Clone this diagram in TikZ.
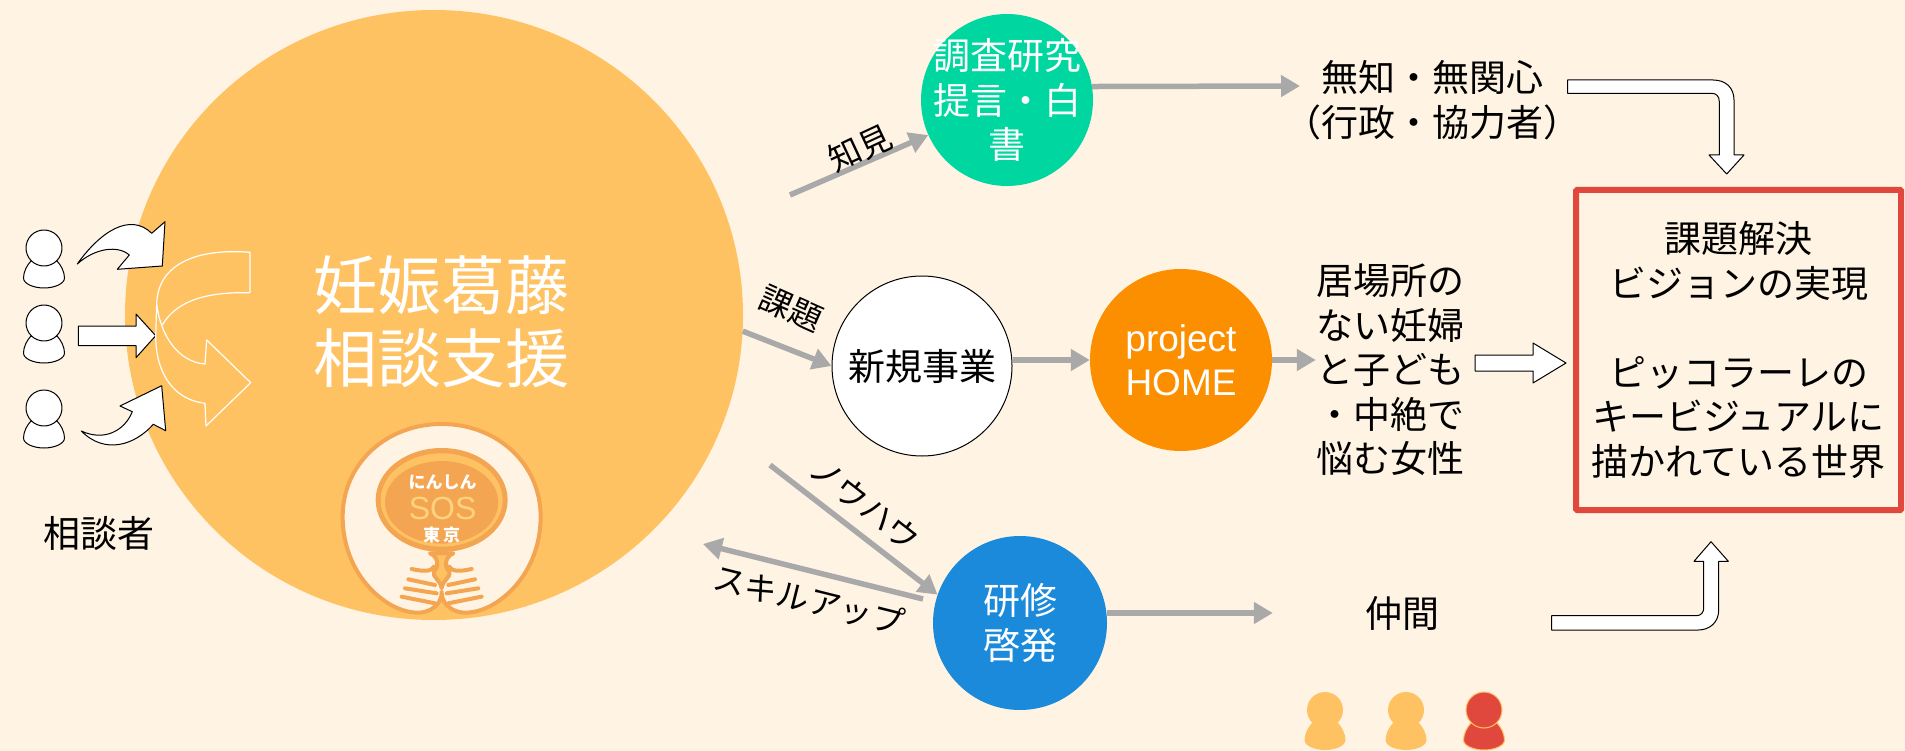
\documentclass[tikz,border=0pt]{standalone}
\usepackage{fontspec}
\setmainfont{Noto Sans CJK JP}
\newfontfamily\latinfont{Liberation Sans}
\usetikzlibrary{arrows.meta,calc,shapes.geometric}

\definecolor{paper}{HTML}{FFF4E3}
\definecolor{sunny}{HTML}{FFC262}
\definecolor{logoorange}{HTML}{F4A552}
\definecolor{logoyellow}{HTML}{FFD27F}
\definecolor{leafgreen}{HTML}{00D6A0}
\definecolor{homeorange}{HTML}{FB8F00}
\definecolor{skyblue}{HTML}{1C8ADB}
\definecolor{alertred}{HTML}{E0483D}
\definecolor{flowgray}{HTML}{A9A9A9}

\tikzset{
    bubble/.style={circle, inner sep=-30pt, minimum size=#1, align=center},
    body/.style={font=\fontsize{37}{44.5}\selectfont, inner sep=0pt, align=center},
    tag/.style={font=\fontsize{32.5}{40}\selectfont, inner sep=0pt},
    flow/.style={draw=flowgray, line width=5.5pt, -{Triangle[length=19pt,width=21pt]}},
    block/.style={draw=black, fill=white, line width=1pt, line join=round},
    ghost/.style={draw=white, line width=1.2pt, line join=round},
    rib/.style={draw=logoorange, line width=4pt, line cap=round},
    person/.pic={
        \path[pic actions] (-13,13) .. controls (-17,17) and (-20.5,24) .. (-20.5,30)
            .. controls (-20.5,36) and (-10,40) .. (0,40)
            .. controls (10,40) and (20.5,36) .. (20.5,30)
            .. controls (20.5,24) and (17,17) .. (13,13) -- cycle;
        \path[pic actions] (0,0) circle [radius=18];
    },
}

\begin{document}
\begin{tikzpicture}[x=1pt,y=-1pt]
    \fill[paper] (0,0) rectangle (1905,751);
    \useasboundingbox (0,0) rectangle (1905,751);

    % main circle
    \node[ellipse, fill=sunny, minimum width=618pt, minimum height=610pt, inner sep=0pt] at (434,315) (BIG) {};
    \node[body, font=\fontsize{64}{73}\selectfont, text=white] at (441,322) (TITLE) {妊娠葛藤\\相談支援};

    % people on the left
    \pic[block] at (44,248) {person};
    \pic[block] at (44,323) {person};
    \pic[block] at (44,408) {person};
    \draw[block] (77.3,264) .. controls (100,232) and (130,212) .. (151.7,233.3)
        -- (165,221.7) -- (162.3,266) -- (117.3,269.3) -- (129.3,255)
        .. controls (118,245) and (95,248) .. cycle;
    \draw[block] (78.3,326) -- (136,326) -- (136,314) -- (155.7,335.7)
        -- (136,357.7) -- (136,345.7) -- (78.3,345.7) -- cycle;
    \draw[block] (81.3,431) .. controls (105,442) and (125,430) .. (132.3,411.7)
        -- (120,406) -- (161.7,385.7) -- (165.7,430.7) -- (153.3,424.3)
        .. controls (135,445) and (105,455) .. cycle;
    \node[body] at (99,533) (ASKER) {相談者};

    % u-turn outline
    \draw[ghost] (250,292.7) .. controls (212,292) and (178,298) .. (162.3,325);
    \draw[ghost] (250,292.7) -- (250,252.3) .. controls (195,248) and (158,265) .. (156.7,303.3)
        .. controls (160,335) and (178,362) .. (205,364) -- (206.7,340)
        -- (250.7,382.7) -- (206,426) -- (205,403.3)
        .. controls (175,400) and (156,375) .. (155.7,336.7) -- (156.7,303.3);

    % logo
    \begin{scope}[shift={(320,420)},x=0.3333pt,y=-0.3333pt]
        \path[draw=logoorange, fill=paper, line width=4pt, line join=round] (365,12)
            .. controls (530,12) and (662,130) .. (662,290)
            .. controls (662,400) and (610,490) .. (540,540)
            .. controls (500,570) and (440,590) .. (400,570)
            .. controls (375,555) and (365,540) .. (365,515)
            .. controls (365,540) and (355,555) .. (330,570)
            .. controls (290,590) and (230,570) .. (190,540)
            .. controls (120,490) and (68,400) .. (68,290)
            .. controls (68,130) and (200,12) .. (365,12) -- cycle;
        \path[draw=logoorange, fill=sunny, line width=4pt, line join=round] (365,505)
            .. controls (362,480) and (335,470) .. (342,455)
            .. controls (358,440) and (355,410) .. (330,400)
            -- (400,400)
            .. controls (375,410) and (372,440) .. (388,455)
            .. controls (395,470) and (368,480) .. (365,505) -- cycle;
        \fill[logoorange] (365,240) ellipse [x radius=198, y radius=156];
        \fill[sunny] (365,240) ellipse [x radius=183, y radius=140];
        \fill[logoorange] (365,247) ellipse [x radius=170, y radius=124];
        \draw[rib] (388,440) .. controls (395,455) and (420,455) .. (455,447);
        \draw[rib] (342,440) .. controls (335,455) and (310,455) .. (275,447);
        \foreach \ya/\xa/\xb/\yb in {495/385/465/478, 520/380/475/505, 550/385/485/530} {
            \draw[rib] (\xa,\ya) -- (\xb,\yb);
            \draw[rib] ({730-\xa},\ya) -- ({730-\xb},\yb);
        }
        \node[inner sep=0pt, text=white, font=\fontsize{17}{20}\bfseries\selectfont] at (368,187) (LOGOA) {にんしん};
        \node[inner sep=0pt, text=logoyellow, font=\latinfont\fontsize{32}{36}\selectfont] at (368,265) (LOGOB) {SOS};
        \node[inner sep=0pt, text=white, font=\fontsize{17}{20}\bfseries\selectfont] at (365,345) (LOGOC) {東\,京};
    \end{scope}

    % bubbles
    \node[bubble=172pt, fill=leafgreen, text=white, font=\fontsize{37}{44.5}\selectfont] at (1007,100) (CHOSA) {調査研究\\提言・白\\書};
    \node[bubble=180pt, draw=black, line width=1pt, fill=white, font=\fontsize{37}{44.5}\selectfont] at (922,366) (SHINKI) {新規事業};
    \node[bubble=182pt, fill=homeorange, text=white, font=\latinfont\fontsize{37}{44}\selectfont] at (1181,360) (HOME) {project\\HOME};
    \node[bubble=174pt, fill=skyblue, text=white, font=\fontsize{37}{44.5}\selectfont] at (1020,623) (KENSHU) {研修\\啓発};

    % text on the right
    \node[body] at (1432,100) (MUCHI) {無知・無関心\\（行政・協力者）};
    \node[body] at (1390,370) (IBASHO) {居場所の\\ない妊婦\\と子ども\\・中絶で\\悩む女性};
    \node[body, minimum width=258pt] at (1402,613) (NAKAMA) {仲間};
    \node[draw=alertred, line width=6pt, rounded corners=1pt, minimum width=325pt, minimum height=320pt, inner sep=0pt, outer sep=0pt,
        align=center, font=\fontsize{37}{44.5}\selectfont] at (1738.5,350) (GOAL)
        {課題解決\\ビジョンの実現\\[44.5pt]ピッコラーレの\\キービジュアルに\\描かれている世界};

    % free ends
    \coordinate (CHOSAIN) at (790,195);
    \coordinate (MUCHIIN) at (1300,86);
    \coordinate (KNOWOUT) at (770,465);
    \coordinate (SKILLOUT) at (923,599);
    \coordinate (SKILLIN) at (703,544);

    % connectors
    \draw[flow] (CHOSAIN) -- (CHOSA.204);
    \draw[flow] (CHOSA.9) -- (MUCHIIN);
    \draw[flow] (BIG.-3) -- (SHINKI.west);
    \draw[flow] (SHINKI.east |- HOME.west) -- (HOME.west);
    \draw[flow] (HOME.east) -- (IBASHO.west |- HOME.east);
    \draw[flow] (KNOWOUT) -- (KENSHU.161);
    \draw[flow] (SKILLOUT) -- (SKILLIN);
    \draw[flow] (KENSHU.east |- NAKAMA.west) -- (NAKAMA.west);

    % connector labels
    \node[tag, rotate=25] at (860,148) (TAGA) {知見};
    \node[tag, rotate=-24] at (791,309) (TAGB) {課題};
    \node[tag, rotate=-38] at (865,504) (TAGC) {ノウハウ};
    \node[tag, rotate=-14] at (809,600) (TAGD) {スキルアップ};

    % hollow arrows
    \draw[block] (1567.7,80) -- (1713,80) .. controls (1726,80) and (1734,88) .. (1734,100)
        -- (1734,155) -- (1744,155) -- (1726.7,174) -- (1709,155) -- (1719.3,155) -- (1719.3,101.7)
        .. controls (1719.3,96) and (1716,93.3) .. (1711.7,93.3) -- (1567.7,93.3) -- cycle;
    \draw[block] (1475,355) -- (1533,355) -- (1533,343) -- (1566,363) -- (1533,383)
        -- (1533,371) -- (1475,371) -- cycle;
    \draw[block] (1551.7,615.7) -- (1696.7,615.7) .. controls (1701,615.7) and (1703.7,612) .. (1703.7,608.3)
        -- (1703.7,561.3) -- (1694,561.3) -- (1711,541.7) -- (1728.3,561.3) -- (1718.7,561.3) -- (1718.7,610)
        .. controls (1718.7,622) and (1710,630) .. (1698.3,630) -- (1551.7,630) -- cycle;

    % colleagues
    \pic[fill=sunny] at (1325,710) {person};
    \pic[fill=sunny] at (1406,710) {person};
    \pic[fill=alertred, draw=sunny, line width=1pt] at (1484,710) {person};
\end{tikzpicture}
\end{document}
